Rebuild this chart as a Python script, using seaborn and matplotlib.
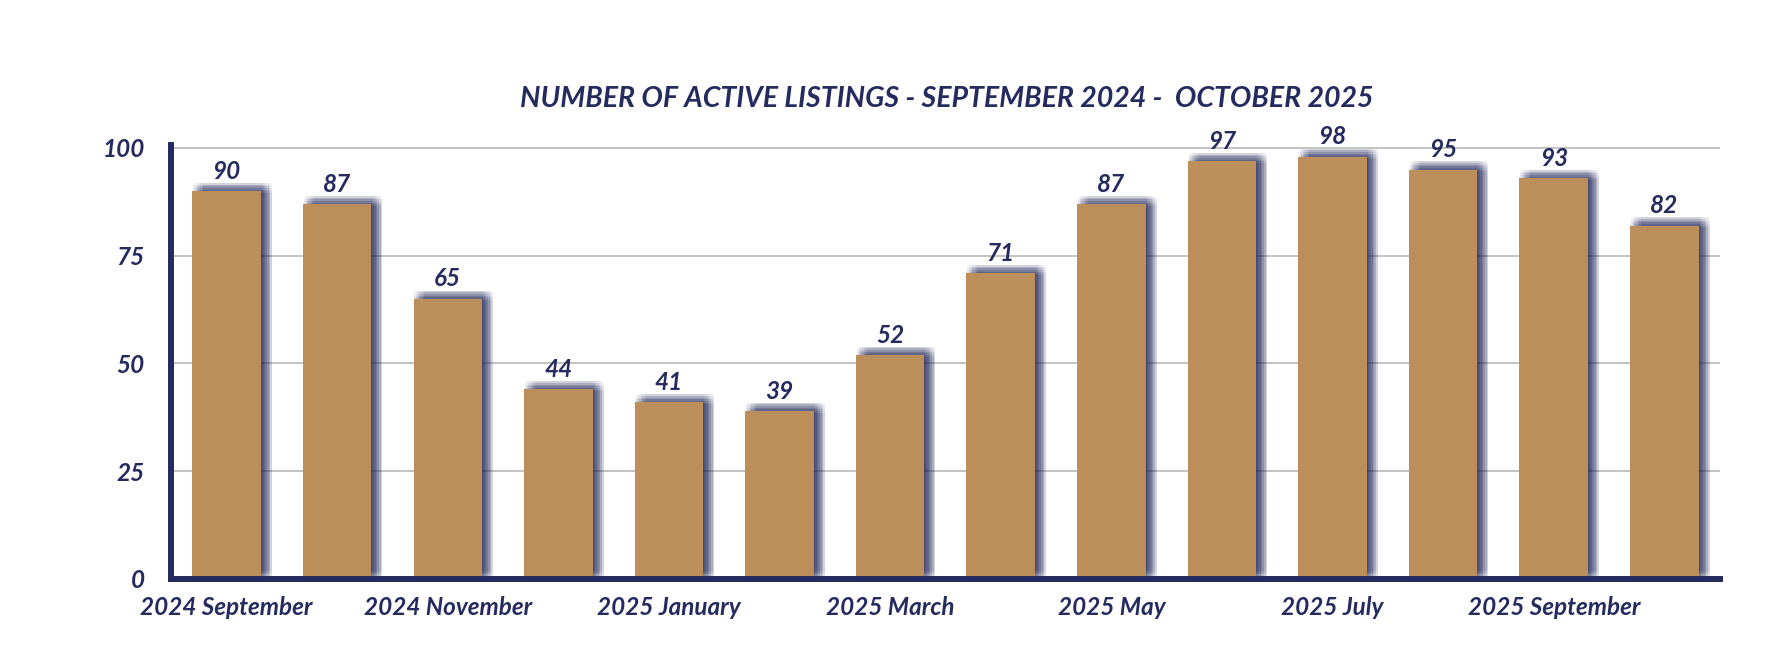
import numpy as np
import matplotlib
matplotlib.use("Agg")
import matplotlib.pyplot as plt
import matplotlib.patheffects as pe
import seaborn as sns

# DATA
months = ['2024 September', '2024 October', '2024 November', '2024 December',
          '2025 January', '2025 February', '2025 March', '2025 April',
          '2025 May', '2025 June', '2025 July', '2025 August',
          '2025 September', '2025 October']
listings = [90, 87, 65, 44, 41, 39, 52, 71, 87, 97, 98, 95, 93, 82]
y_ticks = [0, 25, 50, 75, 100]
title = 'NUMBER OF ACTIVE LISTINGS - SEPTEMBER 2024 -  OCTOBER 2025'

NAVY = '#252B5F'
GOLD = '#BC8E5A'
FONT = ['Lato', 'DejaVu Sans']

sns.set_style('white')
plt.rcParams['font.family'] = FONT

fig = plt.figure(figsize=(17.9, 6.58), dpi=100)
ax = fig.add_axes([0.0957, 0.1201, 0.9607 - 0.0957, 0.6596])

sns.barplot(x=months, y=listings, color=GOLD, saturation=1, width=0.62, ax=ax)

# blurred navy drop shadow, built from stacked faint offset shadows
shadow = []
for dx in np.linspace(-3.6, 3.6, 7):
    for dy in np.linspace(-3.6, 3.6, 7):
        shadow.append(pe.SimplePatchShadow(offset=(4.3 + dx, 2.2 + dy),
                                           shadow_rgbFace=NAVY, alpha=0.03))
shadow.append(pe.Normal())
for bar in ax.patches:
    bar.set_path_effects(shadow)
    bar.set_edgecolor('none')

ax.bar_label(ax.containers[0], fmt='%d', padding=6, fontsize=17.5,
             fontweight='bold', fontstyle='italic', color=NAVY)

ax.set_xlim(-0.5, len(months) - 0.5)
ax.set_ylim(0, 100.7)
ax.set_yticks(y_ticks)
ax.set_yticklabels([str(t) for t in y_ticks])
ax.set_xticks(range(len(months)))
ax.set_xticklabels([m if i % 2 == 0 else '' for i, m in enumerate(months)])

ax.yaxis.grid(True, color='#B3B3B3', linewidth=1.1)
ax.set_axisbelow(True)
ax.tick_params(axis='both', length=0, labelsize=17.5, labelcolor=NAVY)
ax.tick_params(axis='y', pad=19)
ax.tick_params(axis='x', pad=12)
for lab in ax.get_xticklabels() + ax.get_yticklabels():
    lab.set_fontweight('bold')
    lab.set_fontstyle('italic')

for side in ['top', 'right']:
    ax.spines[side].set_visible(False)
for side in ['left', 'bottom']:
    ax.spines[side].set_color(NAVY)
    ax.spines[side].set_linewidth(4.3)
ax.set_xlabel('')
ax.set_ylabel('')

fig.text(0.5287, 0.8495, title, ha='center', va='center', fontsize=20.5,
         fontweight='bold', fontstyle='italic', color=NAVY,
         family=['Lato', 'DejaVu Sans'])

fig.savefig('out.png', dpi=100, facecolor='white')
